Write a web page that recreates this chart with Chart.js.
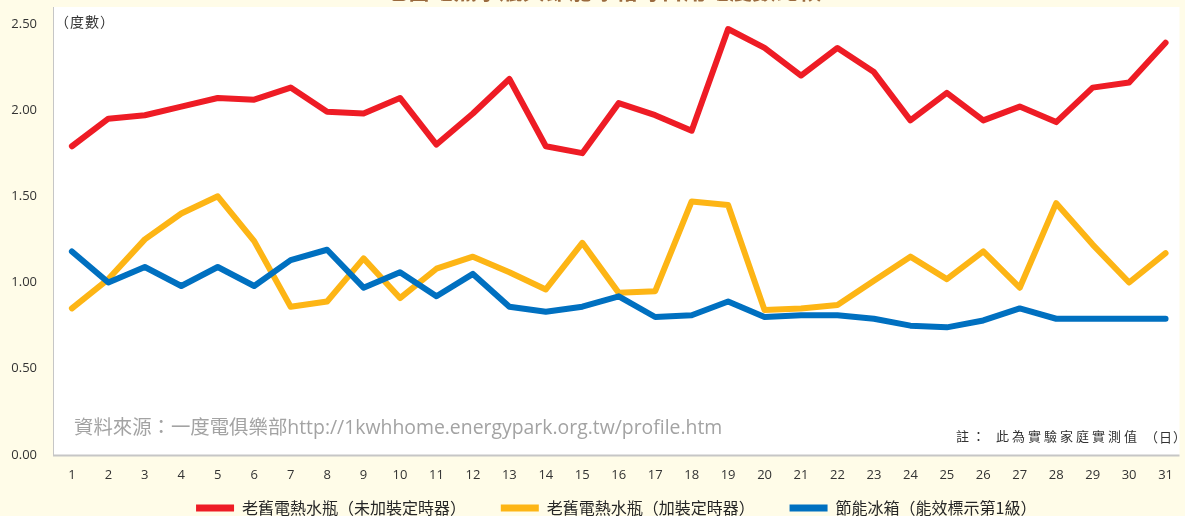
<!DOCTYPE html>
<html><head><meta charset="utf-8">
<script src="https://cdn.jsdelivr.net/npm/chart.js@4"></script>
<style>html,body{margin:0;padding:0;background:#FFFCE8;overflow:hidden}#wrap{width:1185px;height:516px}</style>
</head><body><div id="wrap"><canvas id="c" width="1185" height="516"></canvas></div>
<script>
const days = [1,2,3,4,5,6,7,8,9,10,11,12,13,14,15,16,17,18,19,20,21,22,23,24,25,26,27,28,29,30,31];
const oldNoTimer = [1.79,1.95,1.97,2.02,2.07,2.06,2.13,1.99,1.98,2.07,1.80,1.98,2.18,1.79,1.75,2.04,1.97,1.88,2.47,2.36,2.20,2.36,2.22,1.94,2.10,1.94,2.02,1.93,2.13,2.16,2.39];
const oldTimer = [0.85,1.02,1.25,1.40,1.50,1.24,0.86,0.89,1.14,0.91,1.08,1.15,1.06,0.96,1.23,0.94,0.95,1.47,1.45,0.84,0.85,0.87,1.01,1.15,1.02,1.18,0.97,1.46,1.22,1.00,1.17];
const fridge = [1.18,1.00,1.09,0.98,1.09,0.98,1.13,1.19,0.97,1.06,0.92,1.05,0.86,0.83,0.86,0.92,0.80,0.81,0.89,0.80,0.81,0.81,0.79,0.75,0.74,0.78,0.85,0.79,0.79,0.79,0.79];
const yTicks = [0,0.5,1,1.5,2,2.5];
const seriesNames = ['老舊電熱水瓶（未加裝定時器）','老舊電熱水瓶（加裝定時器）','節能冰箱（能效標示第1級）'];
const titleText = '老舊電熱水瓶與節能冰箱每日用電度數比較';
const unitText = '（度數）';
const sourceText = '資料來源：一度電俱樂部http://1kwhhome.energypark.org.tw/profile.htm';
const noteLead = '註 ：';
const noteText = '此為實驗家庭實測值';
const xUnitText = '（日）';

const colors = ['#EE1C25','#FDB515','#0070C0'];
const CJK = "'Noto Sans CJK TC'";
const gap = '　　   ';

const decor = {
  id: 'decor',
  beforeDraw(chart) {
    const ctx = chart.ctx, a = chart.chartArea;
    ctx.save();
    ctx.fillStyle = '#FFFCE8';
    ctx.fillRect(0, 0, chart.width, chart.height);
    ctx.fillStyle = '#FFFFFF';
    ctx.fillRect(a.left, 7, a.right - a.left, a.bottom - 7);
    ctx.strokeStyle = '#C6C6C6';
    ctx.lineWidth = 1;
    ctx.beginPath(); ctx.moveTo(a.left + 0.5, 7); ctx.lineTo(a.left + 0.5, a.bottom); ctx.stroke();
    ctx.lineWidth = 2;
    ctx.beginPath(); ctx.moveTo(a.left, a.bottom + 0.5); ctx.lineTo(a.right, a.bottom + 0.5); ctx.stroke();
    // title (cut off at top of the picture)
    ctx.fillStyle = '#9A6A3E';
    ctx.font = "bold 23px " + CJK;
    ctx.textAlign = 'center';
    ctx.textBaseline = 'bottom';
    ctx.fillText(titleText, 603, 2);
    ctx.restore();
  },
  beforeDatasetsDraw(chart) {
    const ctx = chart.ctx;
    ctx.save();
    ctx.textBaseline = 'middle';
    ctx.textAlign = 'left';
    ctx.fillStyle = '#333333';
    ctx.font = "14px " + CJK;
    ctx.letterSpacing = '1px';
    ctx.fillText(unitText, 55, 22);
    ctx.letterSpacing = '0px';
    ctx.fillStyle = '#A3A3A3';
    ctx.font = "19.4px 'Open Sans', " + CJK;
    ctx.fillText(sourceText, 74, 428);
    ctx.fillStyle = '#333333';
    ctx.font = "13px " + CJK;
    ctx.fillText(noteLead, 956, 436);
    ctx.letterSpacing = '3px';
    ctx.fillText(noteText, 996, 436);
    ctx.letterSpacing = '1px';
    ctx.fillText(xUnitText, 1145, 437);
    ctx.restore();
  }
};

new Chart(document.getElementById('c'), {
  type: 'line',
  data: {
    datasets: [
      { label: seriesNames[0] + gap, data: days.map((d,i)=>({x:d,y:oldNoTimer[i]})), borderColor: colors[0], backgroundColor: colors[0], order: 3 },
      { label: seriesNames[1] + gap, data: days.map((d,i)=>({x:d,y:oldTimer[i]})), borderColor: colors[1], backgroundColor: colors[1], order: 2 },
      { label: seriesNames[2], data: days.map((d,i)=>({x:d,y:fridge[i]})), borderColor: colors[2], backgroundColor: colors[2], order: 1 }
    ]
  },
  options: {
    responsive: false,
    devicePixelRatio: 1,
    animation: false,
    layout: { padding: { top: 20, left: 0, right: 0, bottom: 0 } },
    elements: {
      line: { borderWidth: 6, tension: 0, borderJoinStyle: 'round', borderCapStyle: 'round' },
      point: { radius: 0, hoverRadius: 0, borderWidth: 7 }
    },
    scales: {
      x: {
        type: 'linear', min: 0.4813, max: 31.382,
        afterBuildTicks: s => { s.ticks = days.map(v => ({ value: v })); },
        afterFit: s => { s.height = 45; },
        grid: { display: false, drawTicks: false },
        border: { display: false },
        ticks: { autoSkip: false, maxRotation: 0, padding: 12, color: '#333333', font: { family: 'Open Sans', size: 13 }, callback: v => String(v) }
      },
      y: {
        min: 0, max: 2.5,
        afterBuildTicks: s => { s.ticks = yTicks.map(v => ({ value: v })); },
        afterFit: s => { s.width = 53; },
        grid: { display: false, drawTicks: false },
        border: { display: false },
        ticks: { padding: 16, color: '#333333', font: { family: 'Open Sans', size: 13 }, callback: v => Number(v).toFixed(2) }
      }
    },
    plugins: {
      tooltip: { enabled: false },
      legend: {
        position: 'bottom',
        fullSize: false,
        maxHeight: 16,
        labels: {
          usePointStyle: true, pointStyle: 'line', pointStyleWidth: 38, boxHeight: 16,
          padding: 0, color: '#262626', font: { family: 'Noto Sans CJK TC', size: 16 },
          sort: (a, b) => a.datasetIndex - b.datasetIndex
        }
      }
    }
  },
  plugins: [decor]
});
</script>
</body></html>
